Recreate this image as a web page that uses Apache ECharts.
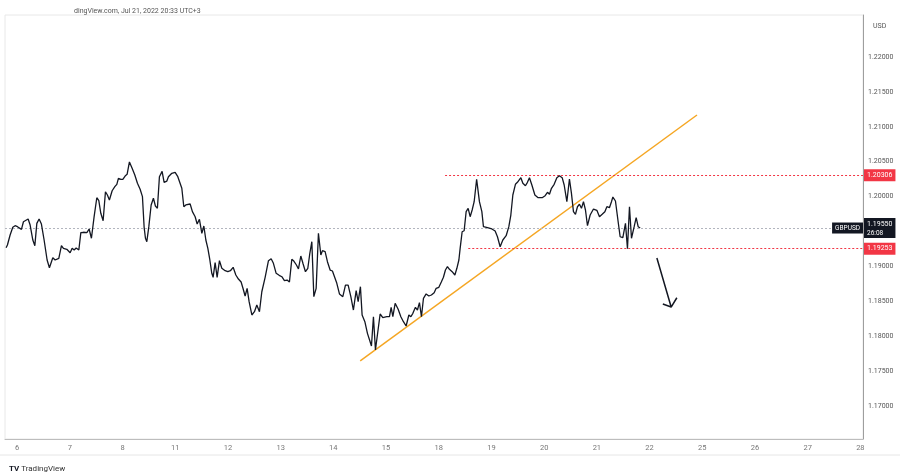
<!DOCTYPE html>
<html>
<head>
<meta charset="utf-8">
<script src="https://cdn.jsdelivr.net/npm/echarts@6/dist/echarts.min.js"></script>
<style>
html,body{margin:0;padding:0;background:#fff;}
#chart{width:900px;height:475px;}
</style>
</head>
<body>
<div id="chart"></div>
<script>
// Trading-day labels (weekends skipped), index 0 = Jul 6
var dayLabels = ['6','7','8','11','12','13','14','15','18','19','20','21','22','25','26','27','28'];
var priceTicks = [1.17, 1.175, 1.18, 1.185, 1.19, 1.195, 1.2, 1.205, 1.21, 1.215, 1.22];

// GBPUSD close path: time in trading-day index, price
var tIdx = [-0.209,-0.184,-0.133,-0.082,-0.038,0.006,0.038,0.082,0.120,0.157,0.209,0.247,0.298,0.336,0.374,0.417,0.461,0.512,0.569,0.613,0.639,0.677,0.721,0.753,0.791,0.841,0.879,0.943,1.006,1.044,1.082,1.120,1.171,1.209,1.258,1.323,1.366,1.410,1.461,1.512,1.550,1.588,1.632,1.676,1.713,1.751,1.803,1.854,1.892,1.922,1.968,2.006,2.049,2.087,2.131,2.182,2.233,2.283,2.334,2.378,2.410,2.435,2.461,2.499,2.543,2.586,2.624,2.662,2.700,2.751,2.789,2.841,2.871,2.935,2.998,3.049,3.125,3.163,3.201,3.283,3.326,3.378,3.416,3.459,3.505,3.543,3.581,3.619,3.657,3.694,3.719,3.757,3.795,3.839,3.884,3.947,3.998,4.047,4.099,4.150,4.199,4.250,4.288,4.326,4.364,4.402,4.454,4.503,4.548,4.598,4.643,4.706,4.769,4.820,4.863,4.915,4.972,5.023,5.072,5.123,5.167,5.212,5.250,5.300,5.338,5.383,5.427,5.471,5.516,5.554,5.592,5.630,5.674,5.717,5.763,5.793,5.844,5.888,5.939,5.983,6.015,6.066,6.116,6.180,6.230,6.281,6.332,6.381,6.433,6.471,6.514,6.546,6.598,6.647,6.698,6.723,6.761,6.799,6.888,6.939,7.015,7.065,7.097,7.129,7.173,7.230,7.281,7.330,7.381,7.433,7.471,7.509,7.558,7.596,7.634,7.672,7.710,7.761,7.812,7.861,7.913,7.951,8.002,8.051,8.089,8.127,8.165,8.203,8.254,8.306,8.344,8.382,8.406,8.444,8.482,8.520,8.558,8.596,8.634,8.672,8.719,8.772,8.818,8.848,8.924,9.008,9.070,9.114,9.165,9.216,9.279,9.330,9.368,9.406,9.455,9.493,9.520,9.558,9.596,9.645,9.683,9.721,9.767,9.824,9.886,9.962,10.019,10.063,10.101,10.139,10.190,10.241,10.290,10.342,10.380,10.431,10.480,10.518,10.556,10.594,10.632,10.670,10.708,10.746,10.784,10.822,10.873,10.936,11.000,11.050,11.101,11.152,11.190,11.239,11.277,11.304,11.353,11.404,11.442,11.493,11.543,11.581,11.619,11.657,11.708,11.746,11.784,11.822];
var price = [1.19268,1.19307,1.19450,1.19560,1.19583,1.19569,1.19579,1.19531,1.19640,1.19626,1.19679,1.19593,1.19378,1.19296,1.19617,1.19679,1.19607,1.19378,1.19092,1.18981,1.18996,1.19125,1.19092,1.19067,1.19116,1.19296,1.19259,1.19245,1.19196,1.19259,1.19235,1.19264,1.19235,1.19483,1.19489,1.19483,1.19536,1.19403,1.19712,1.19984,1.19941,1.19761,1.19655,1.20070,1.20023,1.19951,1.20084,1.20142,1.20176,1.20262,1.20248,1.20248,1.20295,1.20319,1.20496,1.20405,1.20309,1.20191,1.20105,1.19999,1.19560,1.19403,1.19354,1.19569,1.19880,1.19976,1.19865,1.19832,1.20285,1.20362,1.20205,1.20223,1.20285,1.20334,1.20348,1.20285,1.20119,1.19855,1.19880,1.19894,1.19784,1.19712,1.19607,1.19675,1.19474,1.19579,1.19378,1.19259,1.19092,1.18901,1.18844,1.19053,1.18844,1.19082,1.18973,1.18938,1.18924,1.18938,1.18987,1.18877,1.18819,1.18776,1.18680,1.18576,1.18686,1.18494,1.18304,1.18351,1.18447,1.18351,1.18637,1.18844,1.19082,1.19110,1.19044,1.18901,1.18872,1.18852,1.18795,1.18805,1.18776,1.19102,1.19077,1.19020,1.18963,1.19149,1.19034,1.18924,1.18973,1.19188,1.19354,1.18566,1.18686,1.19474,1.19163,1.19225,1.19211,1.19067,1.18948,1.18934,1.18910,1.18758,1.18605,1.18566,1.18733,1.18733,1.18566,1.18375,1.18652,1.18494,1.18709,1.18304,1.18208,1.18041,1.17921,1.17860,1.18279,1.17802,1.18318,1.18265,1.18279,1.18279,1.18414,1.18279,1.18471,1.18385,1.18279,1.18208,1.18146,1.18304,1.18279,1.18328,1.18414,1.18375,1.18480,1.18279,1.18543,1.18605,1.18576,1.18590,1.18623,1.18686,1.18700,1.18781,1.18844,1.18948,1.18996,1.18958,1.18924,1.18877,1.18973,1.19092,1.19259,1.19497,1.19511,1.19784,1.19832,1.19712,1.19808,1.19927,1.20249,1.19927,1.19784,1.19569,1.19554,1.19536,1.19507,1.19425,1.19282,1.19378,1.19440,1.19569,1.19736,1.20023,1.20176,1.20205,1.20223,1.20271,1.20191,1.20156,1.20205,1.20271,1.20166,1.20023,1.19984,1.19984,1.20013,1.20062,1.20033,1.20119,1.20176,1.20271,1.20299,1.20271,1.20166,1.19927,1.20252,1.20047,1.19784,1.19746,1.19855,1.19890,1.19832,1.19927,1.19808,1.19583,1.19736,1.19822,1.19804,1.19712,1.19746,1.19784,1.19855,1.19841,1.19927,1.19994,1.19937,1.19640,1.19425,1.19411,1.19617,1.19253,1.19855,1.19403,1.19569,1.19698,1.19569,1.19550];

// Annotations
var lastPrice = 1.19550;
var resistance = 1.20306, resistanceFrom = 8.12;
var support = 1.19253, supportFrom = 8.56;
var trendX = [6.51, 12.90];
var trendY = [1.17645, 1.21169];
var arrowX = [12.139, 12.410, 12.252, 12.410, 12.518];
var arrowY = [1.19120, 1.18418, 1.18461, 1.18418, 1.18551];

var xMin = -0.23, xMax = 16.05;
var yMin = 1.16527, yMax = 1.22602;

function pairs(xs, ys){ return xs.map(function(x,i){ return [x, ys[i]]; }); }

var FONT = 'Roboto, "Liberation Sans", sans-serif';
var RED = '#f23645';

function redLabel(v){
  return {show: true, position: 'end', distance: 1, color: '#fff', backgroundColor: RED,
    fontSize: 7, padding: [3, 3, 2, 3], fontFamily: FONT, formatter: v.toFixed(5)};
}

var chart = echarts.init(document.getElementById('chart'), null, {renderer:'canvas'});
chart.setOption({
  animation: false,
  backgroundColor: '#ffffff',
  textStyle: {fontFamily: FONT},
  title: [
    {text: 'dingView.com, Jul 21, 2022 20:33 UTC+3', left: 69, top: 3,
     textStyle: {fontSize: 7, fontWeight: 'normal', color: '#555', fontFamily: FONT}},
    {text: 'USD', left: 868, top: 18,
     textStyle: {fontSize: 7, fontWeight: 'normal', color: '#555', fontFamily: FONT}},
    {text: '{logo|TV} TradingView', left: 4, top: 460,
     textStyle: {fontSize: 8, fontWeight: 'normal', color: '#333', fontFamily: FONT,
       rich: {logo: {fontSize: 8, fontWeight: 'bold', color: '#131722', fontFamily: FONT}}}}
  ],
  graphic: [
    {type: 'line', shape: {x1: 0, y1: 455, x2: 900, y2: 455}, style: {stroke: '#e6e6e6', lineWidth: 1}, silent: true}
  ],
  grid: {left: 5, right: 37, top: 15, bottom: 36, show: true, borderColor: '#e8e8e8', borderWidth: 1},
  xAxis: {
    type: 'value', min: xMin, max: xMax,
    axisLine: {show: true, onZero: false, lineStyle: {color: '#bdbdbd'}},
    axisTick: {show: false},
    splitLine: {show: false},
    axisLabel: {
      customValues: dayLabels.map(function(_, i){ return i; }),
      formatter: function(v){ return dayLabels[Math.round(v)] || ''; },
      color: '#777', fontSize: 7.5, margin: 5, fontFamily: FONT
    }
  },
  yAxis: {
    type: 'value', position: 'right', min: yMin, max: yMax,
    axisLine: {show: true, onZero: false, lineStyle: {color: '#9e9e9e'}},
    axisTick: {show: false},
    splitLine: {show: false},
    axisLabel: {
      customValues: priceTicks,
      formatter: function(v){ return Number(v).toFixed(5); },
      color: '#555', fontSize: 7, margin: 5, fontFamily: FONT
    }
  },
  series: [
    {
      type: 'line', data: pairs(tIdx, price), symbol: 'none', z: 5,
      lineStyle: {color: '#131722', width: 1.3},
      markLine: {
        silent: true, symbol: ['none', 'none'], animation: false, precision: 5,
        lineStyle: {color: RED, type: [2, 2], width: 1},
        data: [
          {yAxis: lastPrice, lineStyle: {color: '#b2b5be', type: [2, 2], width: 1},
           label: {show: true, position: 'end', distance: 1, formatter: '{a|1.19550}\n{b|26:08}',
             backgroundColor: '#131722', padding: [2, 3, 1, 3],
             rich: {a: {color: '#fff', fontSize: 7, fontFamily: FONT, lineHeight: 9},
                    b: {color: '#fff', fontSize: 6.5, fontFamily: FONT, lineHeight: 8}}}},
          {yAxis: lastPrice, lineStyle: {color: 'rgba(0,0,0,0)', width: 0},
           label: {show: true, position: 'insideEnd', distance: 0, formatter: 'GBPUSD',
             color: '#fff', backgroundColor: '#131722', fontSize: 6.5, padding: [2, 3, 2, 3], fontFamily: FONT}},
          [
            {coord: [resistanceFrom, resistance], label: redLabel(resistance)},
            {coord: [xMax, resistance]}
          ],
          [
            {coord: [supportFrom, support], label: redLabel(support)},
            {coord: [xMax, support]}
          ]
        ]
      }
    },
    {
      type: 'line', data: pairs(trendX, trendY), symbol: 'none', z: 4,
      lineStyle: {color: '#f5a623', width: 1.5}
    },
    {
      type: 'line', data: pairs(arrowX, arrowY), symbol: 'none', z: 6,
      lineStyle: {color: '#131722', width: 1.5}
    }
  ]
});
</script>
</body>
</html>
